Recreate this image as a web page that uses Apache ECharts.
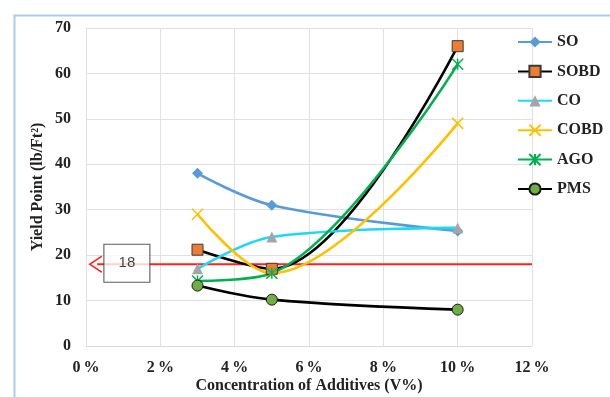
<!DOCTYPE html>
<html>
<head>
<meta charset="utf-8">
<script src="https://cdn.jsdelivr.net/npm/echarts@6/dist/echarts.min.js"></script>
<style>html,body{margin:0;padding:0;background:#fff;}#c{width:610px;height:397px;}</style>
</head>
<body>
<div id="c"></div>
<script>
var concentrations = [3, 5, 10];
var SO = [38, 31, 25.3];
var SOBD = [21.2, 17, 66];
var CO = [17, 24, 26];
var COBD = [29, 16, 49];
var AGO = [14.3, 16, 62];
var PMS = [13.3, 10.2, 8];
var xTicks = ['0%', '2%', '4%', '6%', '8%', '10%', '12%'];
var limitValue = 18;
var limitLabel = '18';

function pts(arr) { return concentrations.map(function (x, i) { return [x, arr[i]]; }); }

var serif = '"Liberation Serif", "DejaVu Serif", serif';
var chart = echarts.init(document.getElementById('c'));

function mk(name, data, lineColor, symbol, size, itemStyle) {
  return {
    name: name, type: 'line', smooth: 0.35, data: pts(data),
    symbol: symbol, symbolSize: size, showAllSymbol: true,
    lineStyle: { color: lineColor, width: 2.6 },
    itemStyle: itemStyle,
    z: 3
  };
}

var series = [
  mk('SO', SO, '#5B9BD5', 'diamond', 11, { color: '#5B9BD5' }),
  mk('SOBD', SOBD, '#000000', 'rect', 11, { color: '#ED7D31', borderColor: '#3a3a3a', borderWidth: 1 }),
  mk('CO', CO, '#1ED8F6', 'triangle', 11, { color: '#A5A5A5' }),
  mk('COBD', COBD, '#FFC000', 'path://M0,0L10,10M10,0L0,10', 11, { color: '#FFC000', borderColor: '#FFC000', borderWidth: 1.5 }),
  mk('AGO', AGO, '#00B050', 'path://M0,0L10,10M10,0L0,10M5,0L5,10', 11, { color: '#00B050', borderColor: '#00B050', borderWidth: 1.5 }),
  mk('PMS', PMS, '#000000', 'circle', 11, { color: '#70AD47', borderColor: '#1a1a1a', borderWidth: 1 }),
  {
    name: 'limit', type: 'line', data: [[0.3, limitValue], [12, limitValue]],
    showSymbol: false,
    lineStyle: { color: '#FF2020', width: 2 }, z: 2, silent: true,
    markPoint: {
      symbol: 'path://M10,0L0,5L10,10', symbolSize: [12, 16], symbolOffset: [5, 0],
      itemStyle: { color: 'none', borderColor: '#FF2020', borderWidth: 1.5 },
      label: { show: false },
      data: [{ coord: [0.13, limitValue] }]
    }
  },
  {
    name: 'limitBox', type: 'scatter', data: [[1.1, limitValue]],
    symbol: 'rect', symbolSize: [46, 38], symbolOffset: [0, -1],
    itemStyle: { color: '#ffffff', borderColor: '#333333', borderWidth: 1 },
    label: { show: true, position: 'inside', formatter: limitLabel, color: '#111', fontSize: 15, fontFamily: 'Liberation Sans, Arial, sans-serif', offset: [0, 0] },
    z: 5, silent: true
  }
];

chart.setOption({
  animation: false,
  backgroundColor: '#ffffff',
  graphic: [{
    type: 'rect', left: 12, top: 13, shape: { width: 640, height: 420 },
    style: { fill: 'none', stroke: '#A9CBEA', lineWidth: 2 }, z: -1
  }],
  grid: { left: 86, right: 78, top: 28, bottom: 51, outerBoundsMode: 'none', containLabel: false },
  legend: {
    data: ['SO', 'SOBD', 'CO', 'COBD', 'AGO', 'PMS'],
    orient: 'vertical', left: 512, top: 29,
    itemWidth: 34, itemHeight: 14, itemGap: 13.4,
    textStyle: { fontFamily: serif, fontWeight: 'bold', fontSize: 16, color: '#222' }
  },
  xAxis: {
    type: 'value', min: 0, max: 12, interval: 2,
    axisLine: { show: true, lineStyle: { color: '#d9d9d9' } },
    axisTick: { show: false },
    splitLine: { show: true, lineStyle: { color: '#e0e0e0' } },
    axisLabel: {
      formatter: function (v) { return xTicks[Math.round(v / 2)].replace('%', '\u2009%'); },
      fontFamily: serif, fontWeight: 'bold', fontSize: 16, color: '#222', margin: 14
    },
    name: 'Concentration of Additives (V%)', nameLocation: 'middle', nameGap: 32,
    nameMoveOverlap: false,
    nameTextStyle: { fontFamily: serif, fontWeight: 'bold', fontSize: 16, color: '#222' }
  },
  yAxis: {
    type: 'value', min: 0, max: 70, interval: 10,
    axisLine: { show: false }, axisTick: { show: false },
    splitLine: { show: true, lineStyle: { color: '#e0e0e0' } },
    axisLabel: { fontFamily: serif, fontWeight: 'bold', fontSize: 16, color: '#222', margin: 15 },
    name: 'Yield Point (lb/Ft\u00B2)', nameLocation: 'middle', nameGap: 40,
    nameMoveOverlap: false,
    nameTextStyle: { fontFamily: serif, fontWeight: 'bold', fontSize: 16, color: '#222' }
  },
  series: series
});
</script>
</body>
</html>
